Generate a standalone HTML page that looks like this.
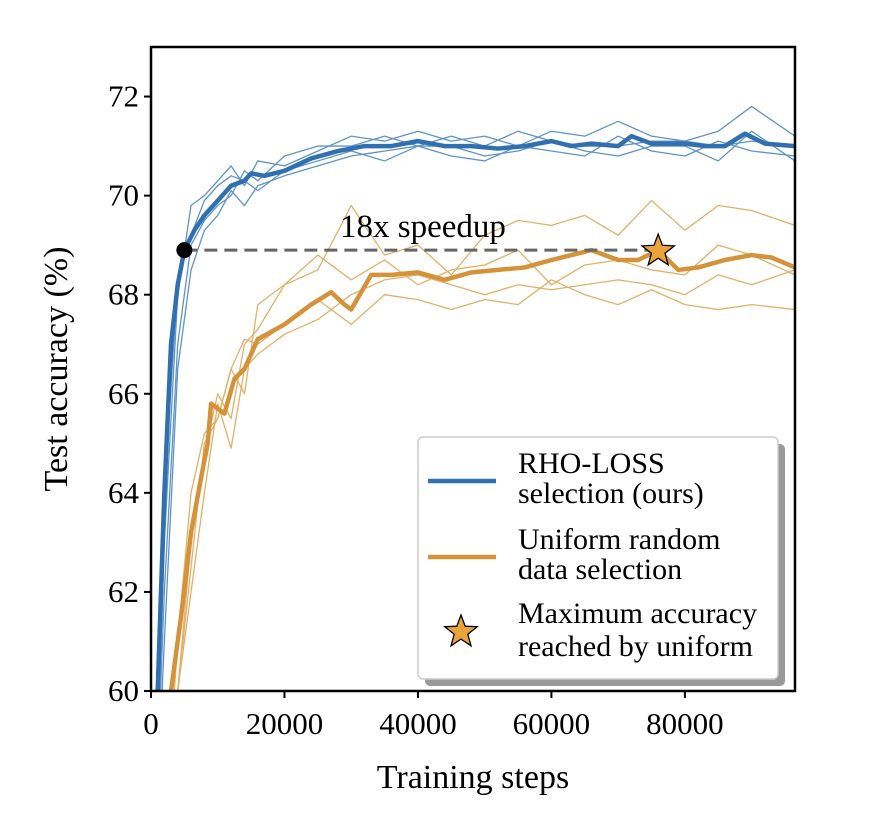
<!DOCTYPE html>
<html><head><meta charset="utf-8"><style>
html,body{margin:0;padding:0;background:#fff;overflow:hidden;width:872px;height:838px}
svg{display:block}
svg text{font-family:"Liberation Serif",serif;fill:#000}
</style></head><body>
<svg id="chart" width="872" height="838">
<defs><clipPath id="clip"><rect x="151" y="47" width="644" height="644"/></clipPath></defs>
<rect x="0" y="0" width="872" height="838" fill="#fff"/>
<g id="thin" clip-path="url(#clip)"></g>
<g id="main" clip-path="url(#clip)"></g>
<g id="axes"></g>
<g id="legend"></g>
</svg>
<script>
const blueMeanX=[0,1000,2000,3000,4000,5000,6500,8000,10000,12000,14000,15000,17000,20000,24000,28000,32000,36000,40000,44000,48000,52000,56000,60000,63000,66000,70000,72000,75000,80000,83000,86000,89000,92000,96500];
const blueMeanY=[55,60,64,67,68.2,68.9,69.3,69.6,69.9,70.2,70.3,70.45,70.4,70.5,70.75,70.9,71.0,71.0,71.1,71.0,71.0,70.95,71.0,71.1,71.0,71.05,71.0,71.2,71.05,71.05,71.0,71.0,71.25,71.05,71.0];
const orMeanX=[3000,4500,6000,7500,8500,9000,10000,11000,12500,14000,16000,20000,24000,27000,29000,30000,33000,36000,40000,44000,48000,52000,56000,60000,63000,66000,70000,73000,76000,79000,82000,86000,90000,93000,96500];
const orMeanY=[60,61.5,63.2,64.3,65,65.8,65.7,65.6,66.3,66.5,67.1,67.4,67.8,68.05,67.8,67.7,68.4,68.4,68.45,68.3,68.45,68.5,68.55,68.7,68.8,68.9,68.7,68.7,68.9,68.5,68.55,68.7,68.8,68.75,68.55];
const blueRunX=[0,2000,4000,6000,8000,10000,12000,14000,16000,20000,25000,30000,35000,40000,45000,50000,55000,60000,65000,70000,75000,80000,85000,90000,96500];
const blueRunA=[55,63,68,69.8,70,70.3,70.6,70.2,70.7,70.6,70.9,71.2,71.1,71.3,71.1,71.2,71.0,71.3,71.2,71.5,71.2,71.1,71.3,71.8,71.2];
const blueRunB=[55,62,67,69,69.5,69.8,70.0,70.5,70.3,70.8,71.0,71.0,71.2,71.0,71.2,71.0,71.3,71.1,71.0,71.0,71.1,71.1,71.0,71.1,71.0];
const blueRunC=[55,61,66.5,68.5,69.3,69.6,70.1,69.8,70.2,70.4,70.6,70.8,70.9,71.0,70.8,70.7,71.0,70.9,70.8,71.2,70.9,70.8,71.1,70.9,70.8];
const blueRunD=[55,64,68.3,69.2,69.9,70.2,70.4,70.3,70.1,70.5,70.7,70.9,70.7,71.0,71.0,70.8,70.9,71.1,70.9,70.8,71.0,71.0,70.7,71.3,70.7];
const orRunX=[2000,4000,6000,8000,10000,12000,14000,16000,20000,25000,30000,35000,40000,45000,50000,55000,60000,65000,70000,75000,80000,85000,90000,96500];
const orRunA=[57,60,63,64.8,66,65.5,67,67.3,68.2,68.5,69.8,68.8,69,68.4,69.2,69.5,69.4,69.6,69.2,69.9,69.3,69.8,69.7,69.4];
const orRunB=[57,60,62.5,65,65.5,66.5,66,67.8,68.2,68.8,68.3,68.7,68.2,68.5,68.6,68.9,68.2,68.6,68.7,68.5,68.4,69,68.8,68.4];
const orRunC=[57,60,62,64,65.8,64.9,66.5,66.8,67.2,67.5,68.0,68.3,68.4,68.2,68.0,68.2,68.1,68.2,68.3,68.2,68.0,68.4,68.2,68.5];
const orRunD=[57,61,64,65.2,65.5,66.5,67.1,67.0,67.4,67.9,67.4,68.0,67.9,67.7,67.9,67.8,68.3,68.0,67.8,68.1,67.8,67.7,67.8,67.7];
const xTicks=[0,20000,40000,60000,80000];
const yTicks=[60,62,64,66,68,70,72];
const targetAcc=68.9, rhoStep=5000, uniStep=76000;

const NS="http://www.w3.org/2000/svg";
const X0=151,X1=795,Y0=691,Y1=47,XMAX=96500,YMIN=60,YMAX=73;
const sx=v=>X0+v/XMAX*(X1-X0);
const sy=v=>Y0-(v-YMIN)/(YMAX-YMIN)*(Y0-Y1);
function mk(tag,attrs,parent){const e=document.createElementNS(NS,tag);for(const k in attrs)e.setAttribute(k,attrs[k]);parent.appendChild(e);return e;}
function line(xs,ys,color,w,parent,name){
  const p=mk('polyline',{points:xs.map((x,i)=>sx(x)+','+sy(ys[i])).join(' '),fill:'none',stroke:color,'stroke-width':w,'stroke-linejoin':'round'},parent);
  
  
  return p;
}
const BLUE='#3070b0',OR='#d4933a';
const thin=document.getElementById('thin'),main=document.getElementById('main'),axes=document.getElementById('axes'),leg=document.getElementById('legend');
[blueRunA,blueRunB,blueRunC,blueRunD].forEach((r,i)=>line(blueRunX,r,'#5f94c8',1.3,thin,'rho-loss-run-'+(i+1)));
[orRunA,orRunB,orRunC,orRunD].forEach((r,i)=>line(orRunX,r,'#e3b067',1.3,thin,'uniform-run-'+(i+1)));
line(orMeanX,orMeanY,OR,4.5,main,'uniform-mean-line');
line(blueMeanX,blueMeanY,BLUE,4.5,main,'rho-loss-mean-line');
let d=mk('line',{x1:sx(rhoStep),x2:sx(uniStep),y1:sy(targetAcc),y2:sy(targetAcc),stroke:'#666','stroke-width':3,'stroke-dasharray':'13,7'},main);


let c=mk('circle',{cx:sx(rhoStep),cy:sy(targetAcc),r:8,fill:'#000'},main);


function star(cx,cy,R,parent){
  const pts=[];for(let i=0;i<10;i++){const r=i%2?R*0.42:R;const a=-Math.PI/2+i*Math.PI/5;pts.push((cx+r*Math.cos(a)).toFixed(1)+','+(cy+r*Math.sin(a)).toFixed(1));}
  return mk('polygon',{points:pts.join(' '),fill:'#eaa43a',stroke:'#000','stroke-width':1.3},parent);
}
let s=star(sx(uniStep),sy(targetAcc)+1,17,main);


let t=mk('text',{x:423,y:237,'text-anchor':'middle','font-size':33},main);t.textContent='18x speedup';


let fr=mk('rect',{x:X0,y:Y1,width:X1-X0,height:Y0-Y1,fill:'none',stroke:'#000','stroke-width':2.5},axes);


xTicks.forEach(v=>{
  mk('line',{x1:sx(v),x2:sx(v),y1:Y0,y2:Y0+7,stroke:'#000','stroke-width':2},axes);
  const tt=mk('text',{x:sx(v),y:Y0+43,'text-anchor':'middle','font-size':31},axes);tt.textContent=v;
  
  
});
yTicks.forEach(v=>{
  mk('line',{x1:X0-7,x2:X0,y1:sy(v),y2:sy(v),stroke:'#000','stroke-width':2},axes);
  const tt=mk('text',{x:X0-12,y:sy(v)+10,'text-anchor':'end','font-size':31},axes);tt.textContent=v;
  
  
});
let xl=mk('text',{x:473,y:788,'text-anchor':'middle','font-size':34},axes);xl.textContent='Training steps';


let yl=mk('text',{x:0,y:0,'text-anchor':'middle','font-size':34,transform:'translate(67,369) rotate(-90)'},axes);yl.textContent='Test accuracy (%)';


mk('rect',{x:425,y:444,width:360,height:242,rx:5,fill:'#999'},leg);
let lb=mk('rect',{x:418,y:437,width:360,height:242,rx:5,fill:'#fff',stroke:'#ccc','stroke-width':1.5},leg);


const entries=[['RHO-LOSS','selection (ours)',BLUE,473],['Uniform random','data selection',OR,549]];
entries.forEach(e=>{
  const l=mk('line',{x1:428,x2:496,y1:e[3]+8,y2:e[3]+8,stroke:e[2],'stroke-width':4.5},leg);
  
  
  const a=mk('text',{x:518,y:e[3],'font-size':30},leg);a.textContent=e[0];
  
  
  const b=mk('text',{x:518,y:e[3]+30,'font-size':30},leg);b.textContent=e[1];
  
  
});
let ls=star(461,632,17,leg);


let a3=mk('text',{x:518,y:623,'font-size':30},leg);a3.textContent='Maximum accuracy';


let b3=mk('text',{x:518,y:656,'font-size':30},leg);b3.textContent='reached by uniform';


</script>
</body></html>
